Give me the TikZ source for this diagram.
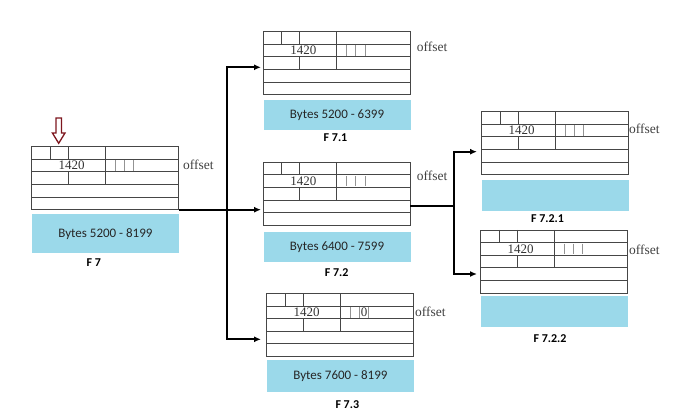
\documentclass[tikz,border=0pt]{standalone}
\usepackage{fontspec}
\setmainfont{Liberation Serif}
\newfontfamily\calibrifont{Carlito}
\usepackage{tikz}
\usetikzlibrary{
    arrows.meta,
    calc
}

\definecolor{bytesblue}{RGB}{155,217,234}
\definecolor{arrowred}{RGB}{125,22,30}
\definecolor{rulegray}{RGB}{70,70,70}

\tikzset{
    hdr/.style={draw=rulegray, line width=0.8pt, minimum width=147pt,
        minimum height=63pt, anchor=north west, inner sep=0pt, outer sep=0pt},
    cell/.style={draw=rulegray, line width=0.8pt},
    tick/.style={draw=gray!85, line width=0.8pt},
    celltext/.style={inner sep=0pt, font=\fontsize{13}{15}\selectfont, text=black!80},
    bytesbox/.style={fill=bytesblue, minimum width=147pt, anchor=north west,
        inner sep=0pt, font=\calibrifont\fontsize{13}{15}\selectfont, text=black!85},
    fraglabel/.style={inner sep=0pt, font=\calibrifont\bfseries\fontsize{12}{14}\selectfont},
    offlabel/.style={anchor=west, inner sep=0pt, font=\fontsize{13.5}{15}\selectfont, text=black!75},
    link/.style={line width=1.8pt},
    linkarrow/.style={link, -{Latex[length=7pt,width=6pt]}}
}

\begin{document}
\begin{tikzpicture}[x=1pt,y=-1pt]

\useasboundingbox (0,0) rectangle (700,419);

% Fragment headers
\foreach \nm/\X/\Y in {f7/31.7/146.7, f71/263.3/31.7, f72/263.3/162.3,
        f73/266.7/293.3, f721/481.7/111.7, f722/480.7/230}{
    \node[hdr] (\nm) at (\X,\Y) {};
    \foreach \r in {1,...,4}
        \draw[cell] ($(\nm.north west)+(0,\r*12.6)$) -- ++(147,0);
    \foreach \c in {18.5,36.5,73.5}
        \draw[cell] ($(\nm.north west)+(\c,0)$) -- ++(0,12.6);
    \draw[cell] ($(\nm.north west)+(73.5,12.6)$) -- ++(0,12.6);
    \foreach \c in {83.5,92.5,102}
        \draw[tick] ($(\nm.north west)+(\c,13.6)$) -- ++(0,10.6);
    \foreach \c in {36.5,73.5}
        \draw[cell] ($(\nm.north west)+(\c,25.2)$) -- ++(0,12.6);
    \node[celltext] (\nm-id) at ($(\nm.north west)+(40,18.9)$) {1420};
}
\node[celltext] (f73-mf) at ($(f73.north west)+(97.3,18.9)$) {0};

% Byte ranges
\foreach \nm/\X/\Y/\H/\txt in {b7/31.7/214/39/Bytes 5200 - 8199,
        b71/263.3/100/30/Bytes 5200 - 6399, b72/263.3/231.7/30/Bytes 6400 - 7599,
        b73/266.7/360/31.7/Bytes 7600 - 8199, b721/481.7/180/31/,
        b722/480.7/296/30.7/}{
    \node[bytesbox, minimum height=\H pt] (\nm) at (\X,\Y) {\txt};
}

% Fragment names
\node[fraglabel] (n7) at (93.7,263) {F 7};
\node[fraglabel] (n71) at (335.5,138) {F 7.1};
\node[fraglabel] (n72) at (336.7,273) {F 7.2};
\node[fraglabel] (n73) at (347.3,405) {F 7.3};
\node[fraglabel] (n721) at (547.5,218.3) {F 7.2.1};
\node[fraglabel] (n722) at (550,338.3) {F 7.2.2};

% offset labels
\node[offlabel] (o7) at (183,165) {offset};
\node[offlabel] (o71) at (416.7,46.7) {offset};
\node[offlabel] (o72) at (416.7,175.7) {offset};
\node[offlabel] (o73) at (415,311.7) {offset};
\node[offlabel] (o721) at (629,129) {offset};
\node[offlabel] (o722) at (629,250) {offset};

% Marker arrow
\draw[arrowred, line width=1.3pt, fill=white, line join=miter]
    (56,118) -- (61.5,118) -- (61.5,133) -- (65,133) -- (58.7,143.3)
    -- (52.4,133) -- (56,133) -- cycle;

% Connectors
\coordinate (j1) at (227,209.7);
\coordinate (in71) at (261,67.3);
\coordinate (in72) at (261,209.7);
\coordinate (in73) at (261,339.3);
\draw[linkarrow] (f7.south east) -- (in72);
\draw[linkarrow] (j1) |- (in71);
\draw[linkarrow] (j1) |- (in73);

\coordinate (out72) at (410.3,206);
\coordinate (j2) at (454.3,206);
\coordinate (in721) at (477,151.7);
\coordinate (in722) at (477,274);
\draw[link] (out72) -- (j2);
\draw[linkarrow] (j2) |- (in721);
\draw[linkarrow] (j2) |- (in722);

\end{tikzpicture}
\end{document}
